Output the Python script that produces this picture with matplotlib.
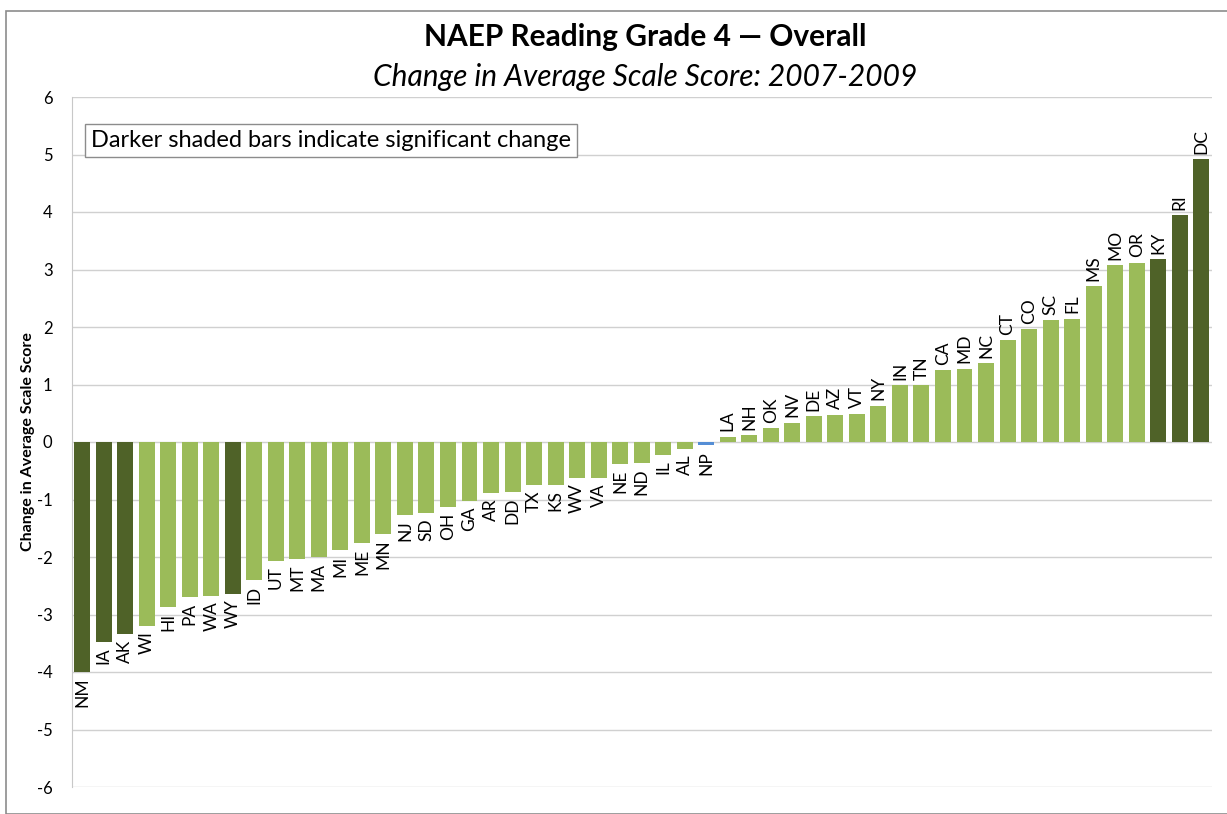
import matplotlib.pyplot as plt
from matplotlib.patches import Rectangle

plt.rcParams['font.family'] = ['Lato', 'DejaVu Sans']
plt.rcParams['axes.unicode_minus'] = False

states = ["NM", "IA", "AK", "WI", "HI", "PA", "WA", "WY", "ID", "UT", "MT", "MA",
          "MI", "ME", "MN", "NJ", "SD", "OH", "GA", "AR", "DD", "TX", "KS", "WV",
          "VA", "NE", "ND", "IL", "AL", "NP", "LA", "NH", "OK", "NV", "DE", "AZ",
          "VT", "NY", "IN", "TN", "CA", "MD", "NC", "CT", "CO", "SC", "FL", "MS",
          "MO", "OR", "KY", "RI", "DC"]
change = [-4.0, -3.48, -3.34, -3.2, -2.87, -2.7, -2.68, -2.64, -2.4, -2.07, -2.03, -2.0,
          -1.88, -1.76, -1.6, -1.27, -1.23, -1.13, -1.03, -0.88, -0.87, -0.74, -0.74, -0.62,
          -0.62, -0.38, -0.36, -0.22, -0.12, -0.06, 0.09, 0.12, 0.24, 0.33, 0.45, 0.47,
          0.49, 0.63, 0.99, 0.99, 1.25, 1.27, 1.37, 1.77, 1.96, 2.12, 2.14, 2.71,
          3.07, 3.12, 3.18, 3.94, 4.92]
significant = ["NM", "IA", "AK", "WY", "KY", "RI", "DC"]
national = "NP"

light = "#9BBB59"
dark = "#4F6228"
blue = "#558ED5"

colors = []
for s in states:
    if s == national:
        colors.append(blue)
    elif s in significant:
        colors.append(dark)
    else:
        colors.append(light)

fig = plt.figure(figsize=(12.27, 8.14), dpi=100)
# outer chart border
fig.patches.append(Rectangle((6 / 1227, 0), 1.1, 1 - 11 / 814, transform=fig.transFigure,
                             fill=False, edgecolor="#8C8C8C", linewidth=1.2))

ax = fig.add_axes([72 / 1227, 1 - 787 / 814, (1212 - 72) / 1227, (787 - 97) / 814])
x = list(range(len(states)))
ax.bar(x, change, width=0.74, color=colors, zorder=3)

for i, (s, v) in enumerate(zip(states, change)):
    if v >= 0:
        ax.annotate(s, (i, v), xytext=(0, 4), textcoords="offset points",
                    rotation=90, ha="center", va="bottom", fontsize=12.5)
    else:
        ax.annotate(s, (i, v), xytext=(0, -4), textcoords="offset points",
                    rotation=90, ha="center", va="top", fontsize=12.5)

ax.set_xlim(-0.47, 52.5)
ax.set_ylim(-6, 6)
ax.set_yticks(range(-6, 7))
ax.set_xticks([])
ax.tick_params(axis="y", length=0, labelsize=12, pad=14)
ax.grid(axis="y", color="#D0D0D0", linewidth=1, zorder=0)
for side in ["top", "right", "bottom"]:
    ax.spines[side].set_visible(False)
ax.spines["left"].set_color("#C8C8C8")

ax.set_ylabel("Change in Average Scale Score", fontsize=11.5, fontweight="bold", labelpad=1)

ax.text(0.017, 0.937, "Darker shaded bars indicate significant change", transform=ax.transAxes,
        fontsize=17, ha="left", va="center",
        bbox=dict(boxstyle="square,pad=0.25", facecolor="white", edgecolor="#8C8C8C"))

fig.text(645 / 1227, 1 - 37 / 814, "NAEP Reading Grade 4 \u2014 Overall", ha="center", va="center",
         fontsize=21.5, fontweight="bold")
fig.text(645 / 1227, 1 - 77 / 814, "Change in Average Scale Score: 2007-2009", ha="center", va="center",
         fontsize=21.5, fontstyle="italic")

fig.savefig("out.png", dpi=100)
